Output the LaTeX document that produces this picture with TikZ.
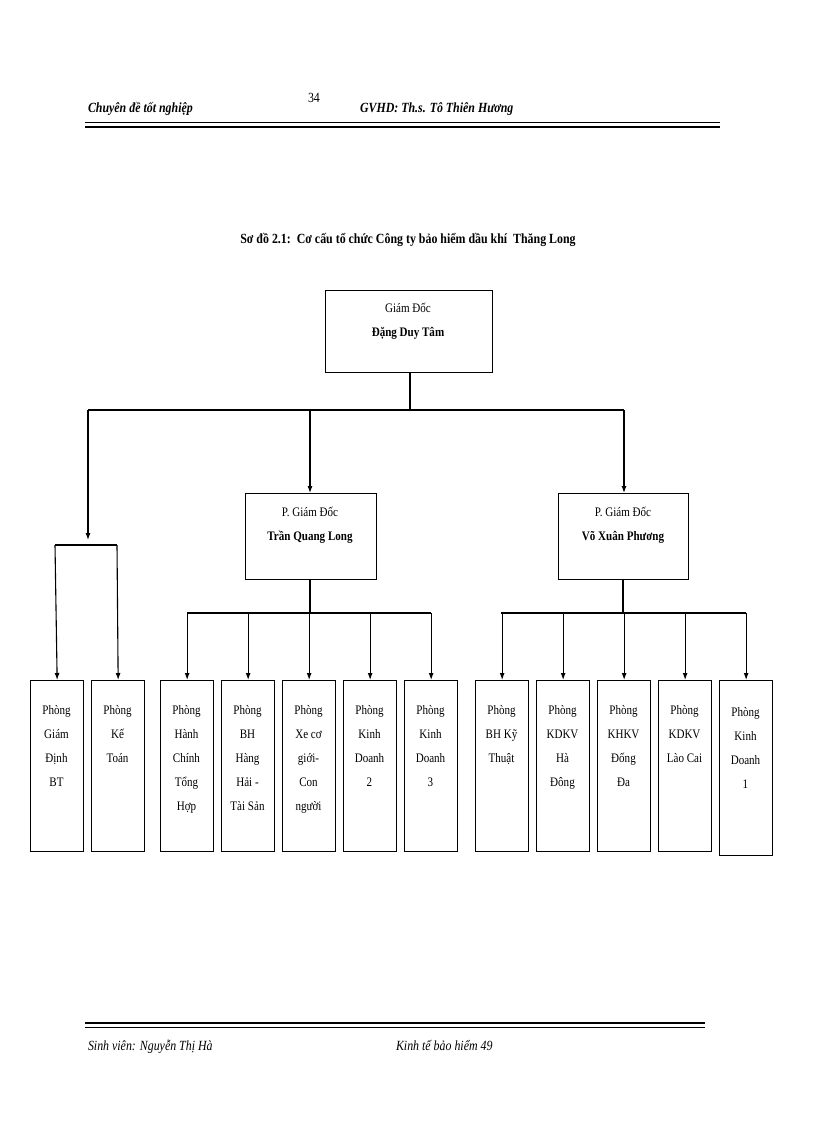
\documentclass[tikz,border=0pt]{standalone}
\usepackage{fontspec}
\usetikzlibrary{arrows.meta}
\setmainfont{Liberation Serif}
\begin{document}
\begin{tikzpicture}[x=1pt,y=-1pt,font=\fontsize{13}{25}\selectfont,
 bx/.style={draw,line width=1.3pt,anchor=north west,inner sep=0},
 tx/.style={anchor=north,align=center,font=\fontsize{13}{24}\selectfont,xscale=0.85},
 ln/.style={line width=1.1pt},
 ar/.style={ln,-{Latex[length=7pt,width=5pt]}}]
\useasboundingbox (0,0) rectangle (816,1123);
% header
\node[anchor=base west,font=\bfseries\itshape\fontsize{14}{16}\selectfont,xscale=0.85] (h1) at (85,113) {Chuyên đề tốt nghiệp};
\node[anchor=base west,font=\fontsize{14}{16}\selectfont,xscale=0.85] (h2) at (305,103) {34};
\node[anchor=base west,font=\bfseries\itshape\fontsize{14}{16}\selectfont,xscale=0.85] (h3) at (357,113) {GVHD: Th.s. Tô Thiên Hương};
\draw[line width=1pt] (85,123)--(720,123);
\draw[line width=2pt] (85,127)--(720,127);
\node[font=\bfseries\fontsize{14}{16}\selectfont,xscale=0.85] (title) at (408,240) {Sơ đồ 2.1:\ \ Cơ cấu tổ chức Công ty bảo hiểm dầu khí\ \ Thăng Long};
% top
\node[bx,minimum width=167pt,minimum height=82pt] (gd) at (325,290) {};
\node[tx] at (408,300) {Giám Đốc\\\bfseries Đặng Duy Tâm};
\node[bx,minimum width=131pt,minimum height=86pt] (p1) at (245,493) {};
\node[tx] at (310,504) {P. Giám Đốc\\\bfseries Trần Quang Long};
\node[bx,minimum width=130pt,minimum height=86pt] (p2) at (558,493) {};
\node[tx] at (623,504) {P. Giám Đốc\\\bfseries Võ Xuân Phương};
\coordinate (j0) at (410,410);
\draw[ln] (gd.south -| j0)--(j0);
\draw[ln] (88,410)--(624,410);
\draw[ar] (88,410)--(88,540);
\draw[ar] (310,410)--(p1.north -| 310,0);
\draw[ar] (624,410)--(p2.north -| 624,0);
\draw[ln] (55,545)--(117,545);
\draw[ln] (310,579)--(310,613) (187,613)--(431,613);
\draw[ln] (623,579)--(623,613) (501,613)--(746,613);
% bottom boxes
\foreach \n/\x/\t in {a/30/{Phòng\\Giám\\Định\\BT},b/91/{Phòng\\Kế\\Toán},
 c/160/{Phòng\\Hành\\Chính\\Tổng\\Hợp},d/221/{Phòng\\BH\\Hàng\\Hải -\\Tài Sản},
 e/282/{Phòng\\Xe cơ\\giới-\\Con\\người},f/343/{Phòng\\Kinh\\Doanh\\2},g/404/{Phòng\\Kinh\\Doanh\\3},
 h/475/{Phòng\\BH Kỹ\\Thuật},i/536/{Phòng\\KDKV\\Hà\\Đông},j/597/{Phòng\\KHKV\\Đống\\Đa},
 k/658/{Phòng\\KDKV\\Lào Cai}}{
 \node[bx,minimum width=53pt,minimum height=171pt] (\n) at (\x,680) {};
 \node[tx] at (\x+26.5,702) {\t};
}
\node[bx,minimum width=53pt,minimum height=175pt] (l) at (719,680) {};
\node[tx] at (745.5,704) {Phòng\\Kinh\\Doanh\\1};
\draw[ar] (55,545)--(a.north);
\draw[ar] (117,545)--(b.north);
\foreach \n in {c,d,e,f,g,h,i,j,k,l}{\draw[ar] (\n.north |- 0,613)--(\n.north);}
% footer
\draw[line width=2pt] (85,1023)--(705,1023);
\draw[line width=1pt] (85,1027)--(705,1027);
\node[anchor=base west,font=\itshape\fontsize{14}{16}\selectfont,xscale=0.85] (f1) at (85,1050) {Sinh viên: Nguyễn Thị Hà};
\node[anchor=base west,font=\itshape\fontsize{14}{16}\selectfont,xscale=0.85] (f2) at (393,1050) {Kinh tế bảo hiểm 49};
\end{tikzpicture}
\end{document}
